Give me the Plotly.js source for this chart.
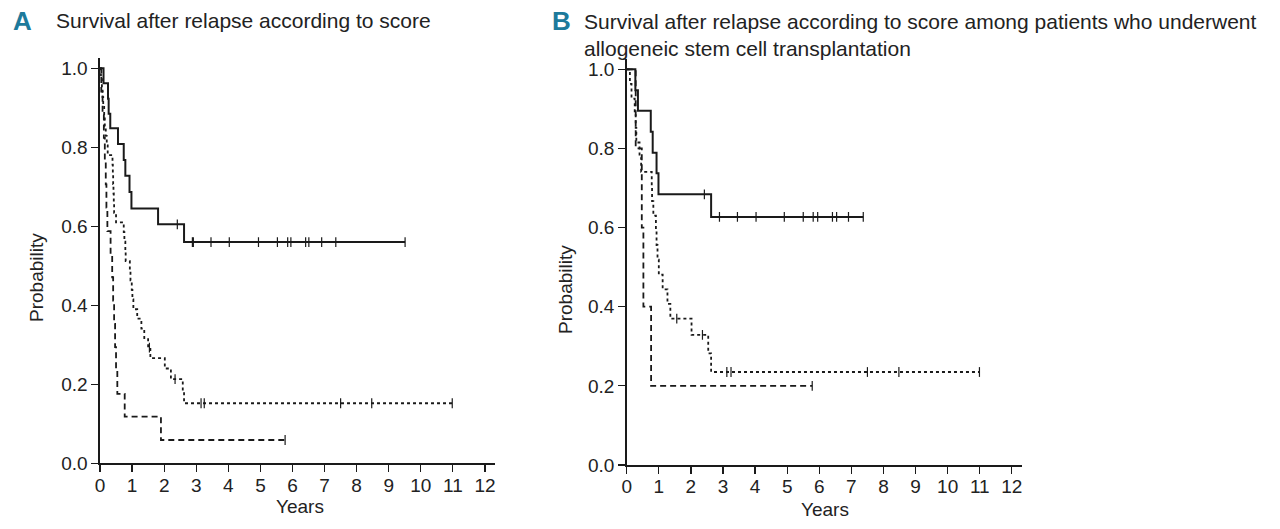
<!DOCTYPE html>
<html>
<head>
<meta charset="utf-8">
<script src="https://cdn.plot.ly/plotly-3.0.1.min.js"></script>
<style>
  html, body { margin: 0; padding: 0; background: #fff; }
  #chart { width: 1280px; height: 529px; }
</style>
</head>
<body>
<div id="chart"></div>
<script>
// Panel A: all patients, by score group (years after relapse, survival probability)
const aLowT = [0, 0.11, 0.25, 0.27, 0.32, 0.56, 0.74, 0.79, 0.92, 0.98, 1.81, 2.62];
const aLowS = [1, 0.962, 0.923, 0.885, 0.848, 0.808, 0.768, 0.728, 0.687, 0.645, 0.605, 0.56];
const aLowC = [2.41, 2.88, 2.91, 3.46, 4.03, 4.94, 5.53, 5.85, 5.95, 6.41, 6.51, 6.91, 7.35, 9.51];

const aIntT = [0, 0.03, 0.06, 0.08, 0.10, 0.13, 0.15, 0.18, 0.21, 0.24, 0.39, 0.40, 0.41, 0.42, 0.43, 0.44,
  0.50, 0.74, 0.76, 0.79, 0.80, 0.93, 0.95, 0.99, 1.01, 1.04, 1.16, 1.29, 1.38, 1.50, 1.57, 2.02, 2.21, 2.58, 2.62];
const aIntS = [1, 0.976, 0.951, 0.927, 0.902, 0.878, 0.854, 0.829, 0.805, 0.780, 0.756, 0.732, 0.707, 0.683, 0.659, 0.634,
  0.610, 0.585, 0.561, 0.537, 0.512, 0.488, 0.463, 0.439, 0.415, 0.390, 0.366, 0.341, 0.317, 0.293, 0.266, 0.240, 0.213, 0.183, 0.152];
const aIntC = [1.54, 2.34, 3.15, 3.25, 7.50, 8.47, 10.98];

const aHighT = [0, 0.04, 0.08, 0.12, 0.15, 0.18, 0.20, 0.23, 0.33, 0.38, 0.41, 0.44, 0.47, 0.50, 0.54, 0.77, 1.90];
const aHighS = [1, 0.941, 0.882, 0.824, 0.765, 0.706, 0.647, 0.588, 0.529, 0.471, 0.412, 0.353, 0.294, 0.235, 0.176, 0.118, 0.059];
const aHighC = [5.77];

// Panel B: patients who underwent allogeneic SCT
const bLowT = [0, 0.27, 0.35, 0.75, 0.81, 0.93, 0.99, 2.63];
const bLowS = [1, 0.947, 0.895, 0.842, 0.789, 0.737, 0.684, 0.627];
const bLowC = [2.42, 2.89, 3.45, 4.03, 4.91, 5.50, 5.81, 5.95, 6.41, 6.54, 6.91, 7.37];

const bIntT = [0, 0.10, 0.15, 0.25, 0.28, 0.30, 0.40, 0.45, 0.78, 0.79, 0.83, 0.91, 0.93, 0.96, 1.00, 1.12, 1.27, 1.36, 2.02, 2.54, 2.63];
const bIntS = [1, 0.963, 0.926, 0.889, 0.852, 0.815, 0.778, 0.741, 0.704, 0.667, 0.630, 0.593, 0.556, 0.519, 0.481, 0.444, 0.407, 0.370, 0.329, 0.282, 0.235];
const bIntC = [1.56, 2.36, 3.12, 3.25, 7.50, 8.48, 10.99];

const bHighT = [0, 0.28, 0.47, 0.52, 0.76];
const bHighS = [1, 0.8, 0.6, 0.4, 0.2];
const bHighC = [5.78];

const xTicks = [0, 1, 2, 3, 4, 5, 6, 7, 8, 9, 10, 11, 12];
const yTicks = [0, 0.2, 0.4, 0.6, 0.8, 1.0];

const FONT = '"Liberation Sans", Arial, sans-serif';
const INK = '#1a1a1a';

function survAt(ts, ss, t) {
    let s = ss[0];
    for (let i = 0; i < ts.length; i++) {
        if (ts[i] <= t) s = ss[i];
    }
    return s;
}

function kmTraces(ts, ss, cs, dash, width, xa, ya) {
    const end = Math.max(ts[ts.length - 1], cs[cs.length - 1]);
    const line = {
        type: 'scatter', mode: 'lines',
        x: ts.concat([end]), y: ss.concat([ss[ss.length - 1]]),
        line: { shape: 'hv', color: INK, width: width, dash: dash },
        xaxis: xa, yaxis: ya, hoverinfo: 'skip'
    };
    const marks = {
        type: 'scatter', mode: 'markers',
        x: cs, y: cs.map(c => survAt(ts, ss, c)),
        marker: { symbol: 'line-ns', size: 7, line: { color: INK, width: 1.2 } },
        xaxis: xa, yaxis: ya, hoverinfo: 'skip'
    };
    return [line, marks];
}

const traces = [].concat(
    kmTraces(aLowT, aLowS, aLowC, 'solid', 2, 'x', 'y'),
    kmTraces(aIntT, aIntS, aIntC, 'dot', 1.8, 'x', 'y'),
    kmTraces(aHighT, aHighS, aHighC, '6px,4px', 1.8, 'x', 'y'),
    kmTraces(bLowT, bLowS, bLowC, 'solid', 2, 'x2', 'y2'),
    kmTraces(bIntT, bIntS, bIntC, 'dot', 1.8, 'x2', 'y2'),
    kmTraces(bHighT, bHighS, bHighC, '6px,4px', 1.8, 'x2', 'y2')
);

function xAxis(domain, anchor) {
    return {
        domain: domain, anchor: anchor, range: [0, 12.3],
        tickvals: xTicks, ticks: 'outside', ticklen: 7, tickwidth: 1.2, tickcolor: INK,
        ticklabelstandoff: -3,
        showline: true, linecolor: INK, linewidth: 1.6,
        showgrid: false, zeroline: false, automargin: false,
        tickfont: { family: FONT, size: 19, color: '#222' }
    };
}
function yAxis(domain, anchor) {
    return {
        domain: domain, anchor: anchor, range: [0, 1.025],
        tickvals: yTicks, tickformat: '.1f', ticks: 'outside', ticklen: 7, tickwidth: 1.2, tickcolor: INK,
        showline: true, linecolor: INK, linewidth: 1.6,
        showgrid: false, zeroline: false, automargin: false,
        tickfont: { family: FONT, size: 19, color: '#222' }
    };
}

const W = 1280, H = 529;
const px = v => v / W;
const py = v => 1 - v / H;

const labelFont = { family: FONT, size: 19, color: '#222' };
const titleFont = { family: FONT, size: 21, color: '#222' };
const letterFont = { family: FONT, size: 26, color: '#1d7a9b', weight: 'bold' };

function note(x, y, text, font, extra) {
    return Object.assign({
        xref: 'paper', yref: 'paper', x: px(x), y: py(y),
        xanchor: 'left', yanchor: 'middle', text: text, showarrow: false, font: font
    }, extra || {});
}

const layout = {
    width: W, height: H,
    margin: { l: 0, r: 0, t: 0, b: 0 },
    paper_bgcolor: '#fff', plot_bgcolor: '#fff',
    showlegend: false,
    xaxis: xAxis([px(100), px(494.6)], 'y'),
    yaxis: yAxis([py(463.3), py(58.4)], 'x'),
    xaxis2: xAxis([px(626.7), px(1021.5)], 'y2'),
    yaxis2: yAxis([py(465), py(59.4)], 'x2'),
    annotations: [
        note(11, 21, '<b>A</b>', letterFont),
        note(54, 20, 'Survival after relapse according to score', titleFont),
        note(550, 21, '<b>B</b>', letterFont),
        note(582, 35, 'Survival after relapse according to score among patients who underwent<br>allogeneic stem cell transplantation',
             titleFont, { align: 'left' }),
        note(300, 506, 'Years', labelFont, { xanchor: 'center' }),
        note(825, 509, 'Years', labelFont, { xanchor: 'center' }),
        note(36, 278, 'Probability', labelFont, { xanchor: 'center', textangle: -90 }),
        note(565, 290, 'Probability', labelFont, { xanchor: 'center', textangle: -90 })
    ]
};

Plotly.newPlot('chart', traces, layout, { staticPlot: true, displayModeBar: false });
</script>
</body>
</html>
